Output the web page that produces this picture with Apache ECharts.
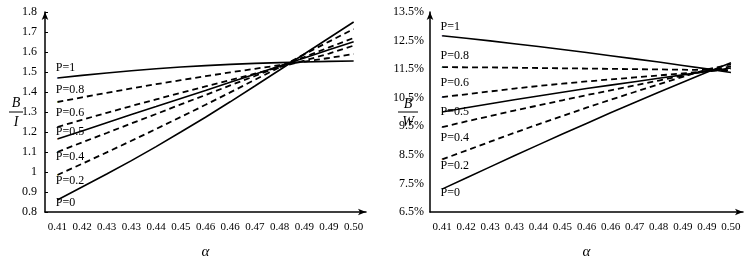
<!DOCTYPE html>
<html>
<head>
<meta charset="utf-8">
<script src="https://cdn.jsdelivr.net/npm/echarts@6.0.0/dist/echarts.min.js"></script>
<style>
    html, body { margin: 0; padding: 0; background: #fff; }
    #chart { width: 744px; height: 260px; }
</style>
</head>
<body>
<div id="chart"></div>
<script>
    // alpha categories (as printed, rounded to 2 decimals)
    const alphaLabels = ['0.41', '0.42', '0.43', '0.43', '0.44', '0.45', '0.46', '0.46', '0.47', '0.48', '0.49', '0.49', '0.50'];
    const seriesNames = ['P=1', 'P=0.8', 'P=0.6', 'P=0.5', 'P=0.4', 'P=0.2', 'P=0'];

    // left panel: B / I
    const biP1  = [1.470, 1.483, 1.495, 1.506, 1.516, 1.525, 1.532, 1.538, 1.543, 1.547, 1.550, 1.553, 1.555];
    const biP08 = [1.350, 1.373, 1.396, 1.418, 1.439, 1.459, 1.479, 1.498, 1.516, 1.534, 1.552, 1.570, 1.590];
    const biP06 = [1.225, 1.261, 1.296, 1.330, 1.363, 1.396, 1.428, 1.460, 1.492, 1.524, 1.557, 1.592, 1.632];
    const biP05 = [1.165, 1.205, 1.246, 1.287, 1.327, 1.368, 1.408, 1.449, 1.489, 1.530, 1.570, 1.611, 1.651];
    const biP04 = [1.100, 1.148, 1.195, 1.243, 1.290, 1.338, 1.385, 1.433, 1.480, 1.528, 1.575, 1.623, 1.670];
    const biP02 = [0.985, 1.041, 1.098, 1.156, 1.215, 1.275, 1.336, 1.398, 1.461, 1.524, 1.588, 1.652, 1.715];
    const biP0  = [0.860, 0.925, 0.990, 1.057, 1.127, 1.200, 1.274, 1.351, 1.430, 1.510, 1.590, 1.670, 1.750];

    // right panel: B / W (percent)
    const bwP1  = [12.67, 12.58, 12.49, 12.39, 12.29, 12.19, 12.08, 11.97, 11.86, 11.75, 11.63, 11.51, 11.38];
    const bwP08 = [11.57, 11.565, 11.56, 11.55, 11.54, 11.53, 11.52, 11.51, 11.50, 11.49, 11.48, 11.47, 11.46];
    const bwP06 = [10.52, 10.62, 10.72, 10.82, 10.91, 10.99, 11.07, 11.14, 11.21, 11.28, 11.35, 11.42, 11.50];
    const bwP05 = [10.00, 10.15, 10.29, 10.43, 10.56, 10.69, 10.82, 10.94, 11.06, 11.18, 11.30, 11.42, 11.54];
    const bwP04 = [9.47, 9.67, 9.86, 10.05, 10.23, 10.41, 10.59, 10.76, 10.93, 11.10, 11.27, 11.44, 11.60];
    const bwP02 = [8.34, 8.65, 8.96, 9.27, 9.57, 9.86, 10.15, 10.43, 10.70, 10.97, 11.23, 11.49, 11.67];
    const bwP0  = [7.30, 7.69, 8.08, 8.47, 8.85, 9.23, 9.60, 9.97, 10.33, 10.69, 11.04, 11.39, 11.72];

    const biData = [biP1, biP08, biP06, biP05, biP04, biP02, biP0];
    const bwData = [bwP1, bwP08, bwP06, bwP05, bwP04, bwP02, bwP0];

    const serif = '"Liberation Serif", "DejaVu Serif", serif';
    const dashedList = [false, true, true, false, true, true, false];
    // vertical offset of the "P=..." tags from the start of each line
    const biTagDy = [-10, -12, -14, -7, 5, 6, 3];
    const bwTagDy = [-8, -11, -14, 0, 11, 7, 4];

    function makeSeries(list, tagDy, idx) {
        return list.map((vals, k) => {
            return {
                name: seriesNames[k] + '_' + idx,
                type: 'line',
                xAxisIndex: idx,
                yAxisIndex: idx,
                symbol: 'none',
                silent: true,
                lineStyle: {
                    color: '#000',
                    width: dashedList[k] ? 1.8 : 1.6,
                    type: dashedList[k] ? [6, 4] : 'solid'
                },
                data: vals.map((v, i) => {
                    if (i !== 0) return v;
                    return {
                        value: v,
                        symbol: 'circle',
                        symbolSize: 1,
                        label: {
                            show: true,
                            formatter: seriesNames[k],
                            position: [-1, tagDy[k]],
                            align: 'left',
                            verticalAlign: 'middle',
                            color: '#000',
                            fontFamily: serif,
                            fontSize: 12
                        }
                    };
                })
            };
        });
    }

    function xAxisOf(idx) {
        return {
            type: 'category',
            gridIndex: idx,
            data: alphaLabels,
            boundaryGap: true,
            name: 'α',
            nameLocation: 'middle',
            nameGap: 33,
            nameTextStyle: { fontFamily: serif, fontStyle: 'italic', fontSize: 15, color: '#000' },
            axisLine: {
                lineStyle: { color: '#000', width: 1.5 },
                symbol: ['none', 'arrow'],
                symbolSize: [5, 8]
            },
            axisTick: { inside: true, length: 3, lineStyle: { color: '#000' } },
            axisLabel: { color: '#000', fontFamily: serif, fontSize: 11, margin: 10, interval: 0 },
            splitLine: { show: false }
        };
    }

    const option = {
        animation: false,
        backgroundColor: '#fff',
        grid: [
            { left: 45, top: 12, width: 321, height: 200, outerBoundsMode: 'none', containLabel: false },
            { left: 430, top: 12, width: 313, height: 200, outerBoundsMode: 'none', containLabel: false }
        ],
        xAxis: [xAxisOf(0), xAxisOf(1)],
        yAxis: [
            {
                type: 'value',
                gridIndex: 0,
                min: 0.8,
                max: 1.8,
                interval: 0.1,
                axisLine: {
                    show: true,
                    lineStyle: { color: '#000', width: 1.5 },
                    symbol: ['none', 'arrow'],
                    symbolSize: [5, 8]
                },
                axisTick: { show: true, inside: true, length: 3, lineStyle: { color: '#000' } },
                axisLabel: {
                    color: '#000', fontFamily: serif, fontSize: 12, margin: 8,
                    formatter: (v) => String(Math.round(v * 10) / 10)
                },
                splitLine: { show: false }
            },
            {
                type: 'value',
                gridIndex: 1,
                min: 6.5,
                max: 13.5,
                interval: 1,
                axisLine: {
                    show: true,
                    lineStyle: { color: '#000', width: 1.5 },
                    symbol: ['none', 'arrow'],
                    symbolSize: [5, 8]
                },
                axisTick: { show: false },
                axisLabel: {
                    color: '#000', fontFamily: serif, fontSize: 12, margin: 6,
                    formatter: (v) => v.toFixed(1) + '%'
                },
                splitLine: { show: false }
            }
        ],
        graphic: [
            { type: 'text', x: 16, y: 103, style: { text: 'B', font: 'italic 14px ' + serif, fill: '#000', align: 'center', verticalAlign: 'middle' } },
            { type: 'line', shape: { x1: 9, y1: 112, x2: 23, y2: 112 }, style: { stroke: '#000', lineWidth: 1 } },
            { type: 'text', x: 16, y: 122, style: { text: 'I', font: 'italic 14px ' + serif, fill: '#000', align: 'center', verticalAlign: 'middle' } },
            { type: 'text', x: 408, y: 104, style: { text: 'B', font: 'italic 14px ' + serif, fill: '#000', align: 'center', verticalAlign: 'middle' } },
            { type: 'line', shape: { x1: 398, y1: 112, x2: 418, y2: 112 }, style: { stroke: '#000', lineWidth: 1 } },
            { type: 'text', x: 408, y: 122, style: { text: 'W', font: 'italic 14px ' + serif, fill: '#000', align: 'center', verticalAlign: 'middle' } }
        ],
        series: makeSeries(biData, biTagDy, 0).concat(makeSeries(bwData, bwTagDy, 1))
    };

    const myChart = echarts.init(document.getElementById('chart'));
    myChart.setOption(option);
</script>
</body>
</html>
